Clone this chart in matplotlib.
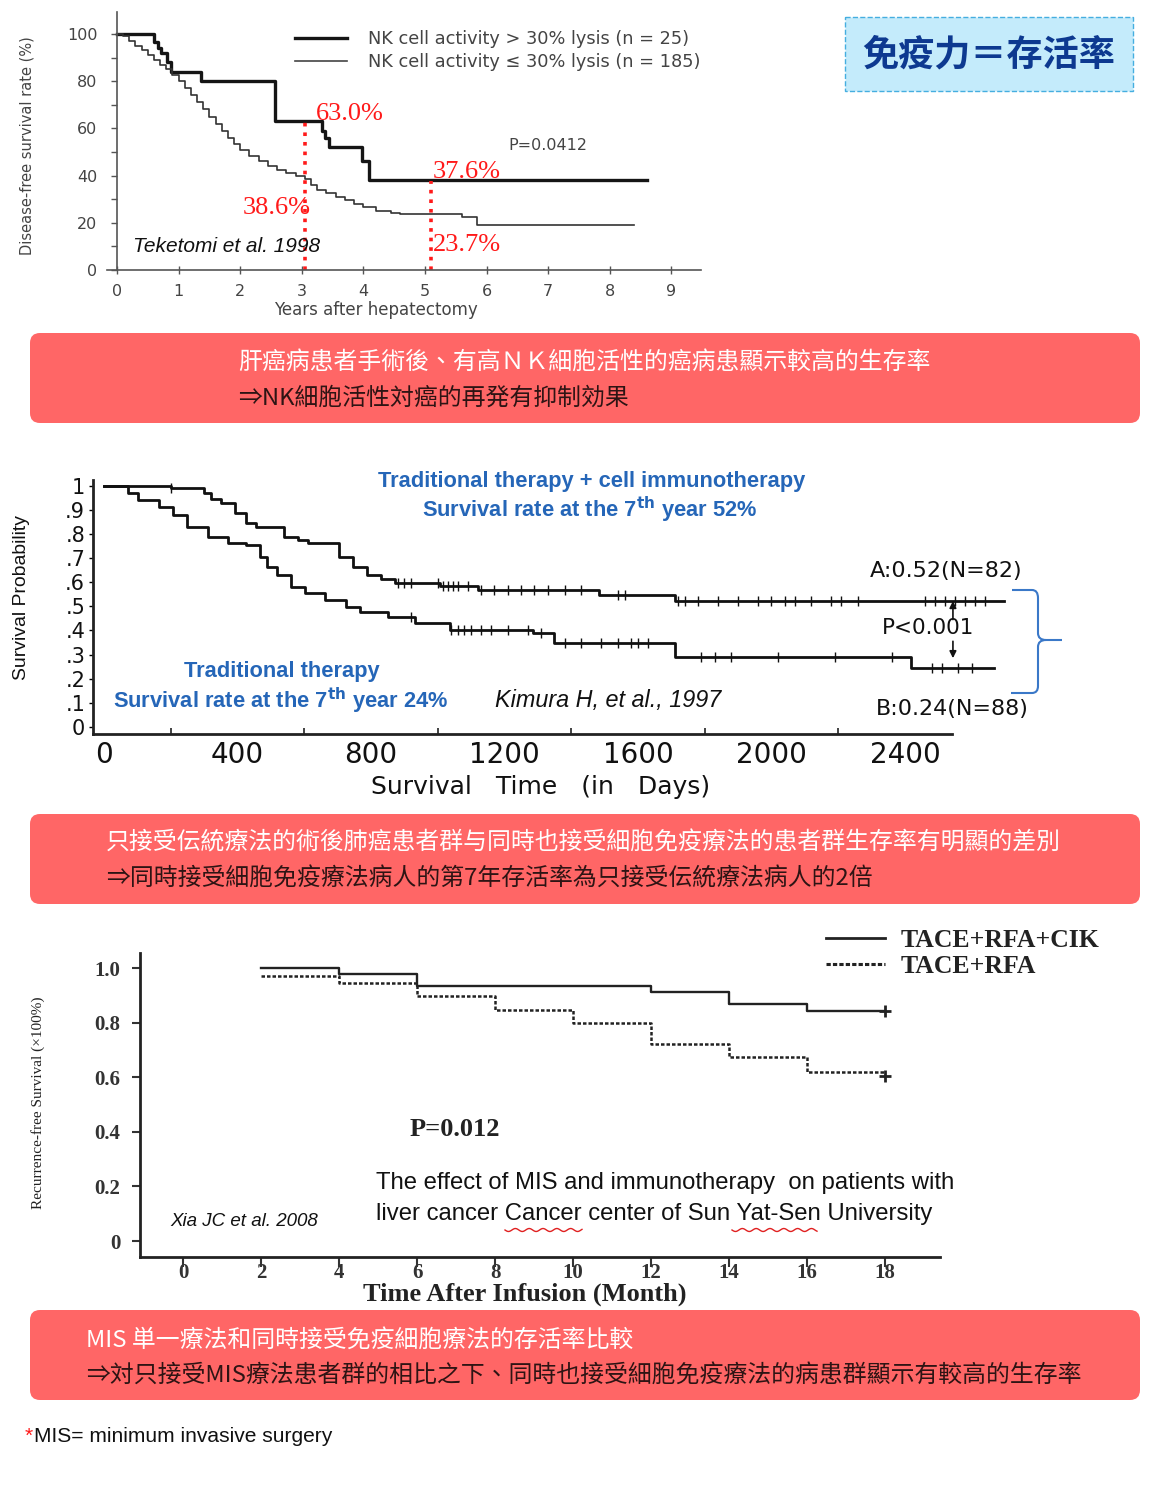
import numpy as np
import matplotlib
matplotlib.use('Agg')
import matplotlib.pyplot as plt
from matplotlib import font_manager
from matplotlib.patches import FancyBboxPatch, PathPatch
from matplotlib.path import Path
from matplotlib.lines import Line2D

W, H = 1170, 1485

_names = {f.name for f in font_manager.fontManager.ttflist}
if 'Liberation Sans Narrow' in _names:
    NARROW, NS = 'Liberation Sans Narrow', 1.0
else:
    NARROW, NS = 'Liberation Sans', 0.82
CJK = ['Noto Sans CJK TC', 'DejaVu Sans']
SERIF = 'Liberation Serif'

# ---------------- data: panel 1 (Teketomi 1998) ----------------
p1_high_t = [0, 0.60, 0.66, 0.72, 0.81, 0.87, 1.37, 2.57, 3.32, 3.38, 3.44, 3.97, 4.09, 8.61]
p1_high_s = [100, 96.5, 94, 92, 88, 84, 80, 63, 59, 56, 52, 46, 38, 38]
p1_low_t = [0, 0.1, 0.2, 0.3, 0.4, 0.5, 0.6, 0.7, 0.8, 0.9, 1.0, 1.1, 1.2, 1.3, 1.4, 1.5,
            1.6, 1.7, 1.8, 1.9, 2.0, 2.15, 2.3, 2.45, 2.6, 2.75, 2.9, 3.05, 3.15, 3.25,
            3.4, 3.55, 3.7, 3.85, 4.0, 4.2, 4.45, 4.6, 5.6, 5.85, 8.39]
p1_low_s = [100, 99, 97, 95, 93, 91, 89, 87, 85, 82.5, 80, 77, 74, 71, 68, 65,
            62, 59, 56, 53.5, 51, 48.5, 46, 44, 42.5, 41, 40, 38.6, 36, 34,
            32.5, 31, 29.5, 28, 26.5, 25, 24.2, 23.7, 22.3, 19.2, 19.2]
p1_mark_x = [3.05, 5.1]
p1_mark_y = [63.0, 37.6]
p1_labels = ['NK cell activity > 30% lysis (n = 25)', 'NK cell activity ≤ 30% lysis (n = 185)']
p1_xticks = list(range(0, 10))
p1_yticks = [0, 20, 40, 60, 80, 100]

# ---------------- data: panel 2 (Kimura 1997) ----------------
A_t = [0, 200, 300, 320, 352, 394, 425, 456, 539, 581, 610, 705, 747, 788, 830, 871,
       1006, 1120, 1483, 1712, 2698]
A_s = [1.0, 0.988, 0.97, 0.945, 0.926, 0.885, 0.843, 0.83, 0.788, 0.775, 0.763, 0.705,
       0.664, 0.63, 0.615, 0.596, 0.584, 0.567, 0.546, 0.522, 0.522]
B_t = [0, 72, 103, 166, 207, 249, 311, 373, 425, 466, 487, 518, 560, 601, 663, 726,
       767, 850, 933, 1037, 1286, 1348, 1712, 2417, 2667]
B_s = [1.0, 0.968, 0.94, 0.912, 0.878, 0.829, 0.788, 0.76, 0.753, 0.705, 0.664, 0.63,
       0.581, 0.553, 0.526, 0.498, 0.477, 0.457, 0.43, 0.402, 0.388, 0.347, 0.291,
       0.243, 0.243]
A_cens = [200, 880, 900, 920, 1000, 1015, 1030, 1045, 1060, 1090, 1130, 1170, 1210, 1250,
          1290, 1330, 1380, 1430, 1540, 1560, 1720, 1740, 1780, 1840, 1900, 1960, 2000,
          2040, 2070, 2120, 2180, 2210, 2260, 2460, 2490, 2520, 2550, 2580, 2610, 2640]
B_cens = [920, 1040, 1060, 1080, 1100, 1130, 1160, 1210, 1270, 1310, 1380, 1430, 1490,
          1540, 1580, 1600, 1630, 1790, 1830, 1880, 2020, 2190, 2360, 2480, 2510, 2560, 2600]
A_label, B_label = 'A:0.52(N=82)', 'B:0.24(N=88)'
p2_xticks = [0, 400, 800, 1200, 1600, 2000, 2400]
p2_yticks = [0, 0.1, 0.2, 0.3, 0.4, 0.5, 0.6, 0.7, 0.8, 0.9, 1.0]
p2_yticklabels = ['0', '.1', '.2', '.3', '.4', '.5', '.6', '.7', '.8', '.9', '1']

# ---------------- data: panel 3 (Xia 2008) ----------------
cik_t = [2, 4, 6, 12, 14, 16, 18]
cik_s = [1.0, 0.978, 0.934, 0.912, 0.868, 0.843, 0.843]
rfa_t = [2, 4, 6, 8, 10, 12, 14, 16, 18]
rfa_s = [0.971, 0.946, 0.897, 0.848, 0.798, 0.72, 0.675, 0.62, 0.62]
end_t = [18, 18]
end_s = [0.843, 0.603]
p3_labels = ['TACE+RFA+CIK', 'TACE+RFA']
p3_xticks = list(range(0, 19, 2))
p3_yticks = [0, 0.2, 0.4, 0.6, 0.8, 1.0]
p3_yticklabels = ['0', '0.2', '0.4', '0.6', '0.8', '1.0']

# ---------------- text ----------------
title = '免疫力＝存活率'
box_lines = [
    ('肝癌病患者手術後、有高ＮＫ細胞活性的癌病患顯示較高的生存率', '⇒NK細胞活性対癌的再発有抑制効果'),
    ('只接受伝統療法的術後肺癌患者群与同時也接受細胞免疫療法的患者群生存率有明顯的差別',
     '⇒同時接受細胞免疫療法病人的第7年存活率為只接受伝統療法病人的2倍'),
    ('MIS 単一療法和同時接受免疫細胞療法的存活率比較',
     '⇒対只接受MIS療法患者群的相比之下、同時也接受細胞免疫療法的病患群顯示有較高的生存率'),
]

fig = plt.figure(figsize=(W / 100, H / 100), dpi=100)
fig.patch.set_facecolor('white')


def rect(l, t, r, b):
    return [l / W, 1 - b / H, (r - l) / W, (b - t) / H]


bg = fig.add_axes([0, 0, 1, 1], zorder=0)
bg.set_xlim(0, W); bg.set_ylim(H, 0); bg.axis('off')
ov = fig.add_axes([0, 0, 1, 1], zorder=10)
ov.set_xlim(0, W); ov.set_ylim(H, 0); ov.axis('off'); ov.patch.set_alpha(0)

# ---- title box ----
bg.add_patch(FancyBboxPatch((845, 17), 288, 74, boxstyle='square,pad=0', fc='#c4ebfb',
                            ec='#45aee0', ls='--', lw=1))
bg.text(989, 55, title, family=CJK, fontsize=26, weight='bold', color='#0d3990',
        ha='center', va='center')

# ---- red boxes ----
boxes = [(333, 238, 362, 398), (814, 106, 843, 879), (1310, 86, 1340, 1375)]
for (top, xl, y1, y2), (l1, l2) in zip(boxes, box_lines):
    bg.add_patch(FancyBboxPatch((30, top), 1110, 90, boxstyle='round,pad=0,rounding_size=10',
                                fc='#ff6666', ec='none'))
    bg.text(xl, y1, l1, family=CJK, fontsize=17.2, color='white', ha='left', va='center')
    bg.text(xl, y2, l2, family=CJK, fontsize=17.2, color='#2e1414', ha='left', va='center')

# ================= Panel 1 =================
ax1 = fig.add_axes(rect(107, 12, 701, 270), zorder=2)
ax1.patch.set_alpha(0)
ax1.set_xlim(-0.162, 9.48); ax1.set_ylim(0, 109.3)
ax1.step(p1_high_t, p1_high_s, where='post', color='#151515', lw=2.4)
ax1.step(p1_low_t, p1_low_s, where='post', color='#333333', lw=1.2)
for x, y in zip(p1_mark_x, p1_mark_y):
    ax1.plot([x, x], [0, y], color='#ff1a1a', ls=':', lw=2.6)
for s in ['top', 'right']:
    ax1.spines[s].set_visible(False)
ax1.spines['left'].set_position(('data', 0))
for s in ['left', 'bottom']:
    ax1.spines[s].set_color('#555'); ax1.spines[s].set_linewidth(1.2)
ax1.set_xticks(p1_xticks)
ax1.set_yticks(p1_yticks)
ax1.set_yticks([10, 30, 50, 70, 90], minor=True)
ax1.tick_params(axis='x', direction='inout', length=6, width=1, colors='#555', labelsize=11.5,
                pad=7, labelcolor='#444')
ax1.tick_params(axis='y', which='both', direction='out', length=4, width=1, colors='#555',
                labelsize=11.5, pad=10, labelcolor='#444')
ax1.legend([Line2D([], [], color='#151515', lw=2.4), Line2D([], [], color='#444', lw=1.2)],
           p1_labels, loc='upper left', bbox_to_anchor=(295 / W, 1 - 30 / H),
           bbox_transform=fig.transFigure, frameon=False, fontsize=12.8, handlelength=2.9,
           handletextpad=1.2, labelspacing=0.28, borderpad=0, borderaxespad=0,
           labelcolor='#444')
ov.text(27, 146, 'Disease-free survival rate (%)', rotation=90, fontsize=10.5, color='#444',
        ha='center', va='center')
ov.text(376, 310, 'Years after hepatectomy', fontsize=12, color='#444', ha='center', va='center')
ov.text(508, 145, 'P=0.0412', fontsize=11.5, color='#444', ha='left', va='center')
ov.text(133, 247, 'Teketomi et al. 1998', fontsize=15, style='italic', family='Liberation Sans',
        color='#111', ha='left', va='center')
for (x, y, s, ha) in [(316, 114, '63.0%', 'left'), (311, 208, '38.6%', 'right'),
                      (433, 172, '37.6%', 'left'), (433, 245, '23.7%', 'left')]:
    ov.text(x, y, s, family=SERIF, fontsize=19, color='#ff1a1a', ha=ha, va='center')

# ================= Panel 2 =================
ax2 = fig.add_axes(rect(93.5, 480, 1010, 734), zorder=2)
ax2.patch.set_alpha(0)
ax2.set_xlim(-31.5, 2715); ax2.set_ylim(-0.029, 1.023)
ax2.step(A_t, A_s, where='post', color='#111', lw=2)
ax2.step(B_t, B_s, where='post', color='#111', lw=2)


def step_val(t, s, x):
    idx = np.searchsorted(np.asarray(t), np.asarray(x), side='right') - 1
    return np.asarray(s)[idx]


ax2.plot(A_cens, step_val(A_t, A_s, A_cens), ls='none', marker='|', ms=7, mew=1, color='#111')
ax2.plot(B_cens, step_val(B_t, B_s, B_cens), ls='none', marker='|', ms=7, mew=1, color='#111')
for s in ['top', 'right']:
    ax2.spines[s].set_visible(False)
ax2.spines['bottom'].set_bounds(-31.5, 2541)
for s in ['left', 'bottom']:
    ax2.spines[s].set_color('#222'); ax2.spines[s].set_linewidth(2)
ax2.set_xticks(p2_xticks)
ax2.set_xticks([200, 600, 1000, 1400, 1800, 2200], minor=True)
ax2.set_yticks(p2_yticks)
ax2.set_yticklabels(p2_yticklabels)
ax2.tick_params(axis='x', which='major', length=0, labelsize=20, pad=5, labelcolor='#111')
ax2.tick_params(axis='x', which='minor', direction='in', length=4, width=1.2, color='#222')
ax2.tick_params(axis='y', direction='out', length=3, width=1, labelsize=15, pad=3,
                labelcolor='#111')
ax2.annotate('', xy=(2544, 0.522), xytext=(2544, 0.445),
             arrowprops=dict(arrowstyle='-|>', color='#111', lw=1.2, mutation_scale=10,
                             shrinkA=0, shrinkB=0))
ax2.annotate('', xy=(2544, 0.285), xytext=(2544, 0.355),
             arrowprops=dict(arrowstyle='-|>', color='#111', lw=1.2, mutation_scale=10,
                             shrinkA=0, shrinkB=0))
blue = '#2566b8'
BF = 19.2 * NS
ov.text(592, 481, 'Traditional therapy + cell immunotherapy', family=NARROW, weight='bold',
        fontsize=BF, color=blue, ha='center', va='center')
ov.text(590, 510, r'Survival rate at the 7$^{\mathbf{th}}$ year 52%', family=NARROW,
        weight='bold', fontsize=BF, color=blue, ha='center', va='center')
ov.text(282, 671, 'Traditional therapy', family=NARROW, weight='bold', fontsize=BF,
        color=blue, ha='center', va='center')
ov.text(113, 701, r'Survival rate at the 7$^{\mathbf{th}}$ year 24%', family=NARROW,
        weight='bold', fontsize=BF, color=blue, ha='left', va='center')
ov.text(495, 701, 'Kimura H, et al., 1997', family=NARROW, style='italic', fontsize=20.5 * NS,
        color='#111', ha='left', va='center')
ov.text(870, 571, A_label, fontsize=16, color='#111', ha='left', va='center')
ov.text(882, 628, 'P<0.001', fontsize=15.5, color='#111', ha='left', va='center')
ov.text(876, 709, B_label, fontsize=16, color='#111', ha='left', va='center')
ov.text(22, 598, 'Survival Probability', family=NARROW, fontsize=17 * NS, rotation=90,
        color='#111', ha='center', va='center')
ov.text(541, 787, 'Survival   Time   (in   Days)', fontsize=18, color='#111',
        ha='center', va='center')
verts = [(1012, 590), (1032, 590), (1038, 590), (1038, 598), (1038, 633), (1038, 640),
         (1046, 640), (1062, 640), (1046, 640), (1038, 640), (1038, 647), (1038, 686),
         (1038, 693), (1032, 693), (1011, 693)]
codes = [Path.MOVETO, Path.LINETO, Path.CURVE3, Path.CURVE3, Path.LINETO, Path.CURVE3,
         Path.CURVE3, Path.LINETO, Path.MOVETO, Path.CURVE3, Path.CURVE3, Path.LINETO,
         Path.CURVE3, Path.CURVE3, Path.LINETO]
ov.add_patch(PathPatch(Path(verts, codes), fc='none', ec='#3a78c8', lw=1.5))

# ================= Panel 3 =================
ax3 = fig.add_axes(rect(140, 953, 940, 1257), zorder=2)
ax3.patch.set_alpha(0)
ax3.set_xlim(-1.103, 19.41); ax3.set_ylim(-0.0586, 1.055)
ax3.step(cik_t, cik_s, where='post', color='#222', lw=1.7)
ax3.step(rfa_t, rfa_s, where='post', color='#222', lw=1.8, ls=(0, (1.4, 0.8)))
ax3.plot(end_t, end_s, ls='none', marker='+', ms=9, mew=2, color='#222')
for s in ['top', 'right']:
    ax3.spines[s].set_visible(False)
for s in ['left', 'bottom']:
    ax3.spines[s].set_color('#222'); ax3.spines[s].set_linewidth(2)
ax3.set_xticks(p3_xticks)
ax3.set_yticks(p3_yticks)
ax3.set_yticklabels(p3_yticklabels)
for lab in ax3.get_xticklabels() + ax3.get_yticklabels():
    lab.set_fontfamily(SERIF); lab.set_fontweight('bold')
ax3.tick_params(axis='x', direction='out', length=7, width=1.5, labelsize=15, pad=-3,
                colors='#333')
ax3.tick_params(axis='y', direction='out', length=6, width=1.5, labelsize=15, pad=8,
                colors='#333')
ax3.legend([Line2D([], [], color='#222', lw=2), Line2D([], [], color='#222', lw=2.2,
                                                         ls=(0, (1.4, 0.7)))],
           p3_labels, loc='upper left', bbox_to_anchor=(826 / W, 1 - 929 / H),
           bbox_transform=fig.transFigure, frameon=False,
           prop=dict(family=SERIF, weight='bold', size=18.5), handlelength=2.3,
           handletextpad=0.6, labelspacing=0.12, borderpad=0, borderaxespad=0,
           labelcolor='#222')
ov.text(410, 1129, 'P=0.012', family=SERIF, weight='bold', fontsize=19, color='#222',
        ha='left', va='center')
TF = 21 * NS
ov.text(376, 1183, 'The effect of MIS and immunotherapy  on patients with', family=NARROW,
        fontsize=TF, color='#111', ha='left', va='center')
ov.text(376, 1214, 'liver cancer Cancer center of Sun Yat-Sen University', family=NARROW,
        fontsize=TF, color='#111', ha='left', va='center')
for x0, x1 in [(505, 582), (732, 817)]:
    xx = np.linspace(x0, x1, 80)
    ov.plot(xx, 1230 + 1.5 * np.sin((xx - x0) / 2.2), color='#e02020', lw=1)
ov.text(170, 1222, 'Xia JC et al. 2008', family=NARROW, style='italic', fontsize=16.5 * NS,
        color='#111', ha='left', va='center')
ov.text(38, 1103, 'Recurrence-free Survival (×100%)', family=SERIF, fontsize=11, rotation=90,
        color='#222', ha='center', va='center')
ov.text(525, 1294, 'Time After Infusion (Month)', family=SERIF, weight='bold', fontsize=19,
        color='#222', ha='center', va='center')

# ---- footnote ----
FF = 18.5 * NS
ov.text(25, 1436, '*', color='#ff1a1a', fontsize=FF, family=NARROW, ha='left', va='center')
ov.text(34, 1436, 'MIS= minimum invasive surgery', color='#111', fontsize=FF,
        family=NARROW, ha='left', va='center')

fig.savefig('out.png', dpi=100)
